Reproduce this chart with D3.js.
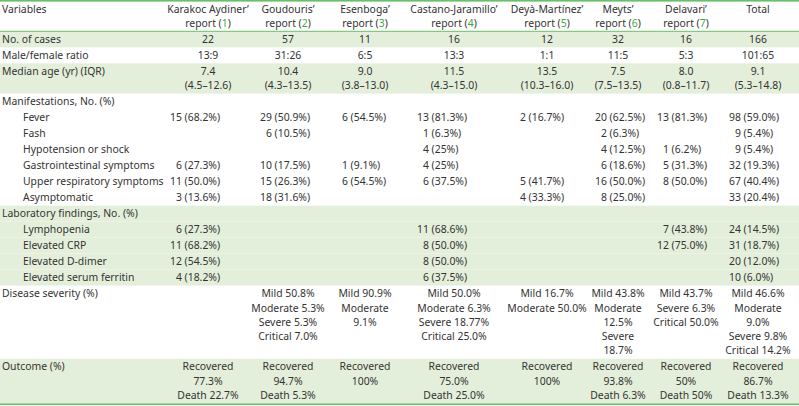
<!DOCTYPE html>
<html><head><meta charset="utf-8">
<script src="https://cdn.jsdelivr.net/npm/d3@7"></script>
<style>html,body{margin:0;padding:0;background:#fff}svg{display:block}</style>
</head><body><svg id="c" width="799" height="406"></svg>
<script>
// ---------- data ----------
const studies = ["Karakoc Aydiner’", "Goudouris’", "Esenboga’", "Castano-Jaramillo’", "Deyà-Martínez’", "Meyts’", "Delavari’", "Total"];
const refs = [1, 2, 3, 4, 5, 6, 7, null];
const cases = [22, 57, 11, 16, 12, 32, 16, 166];
const sexRatio = ["13:9", "31:26", "6:5", "13:3", "1:1", "11:5", "5:3", "101:65"];
const medianAge = ["7.4", "10.4", "9.0", "11.5", "13.5", "7.5", "8.0", "9.1"];
const ageIQR = ["4.5–12.6", "4.3–13.5", "3.8–13.0", "4.3–15.0", "10.3–16.0", "7.5–13.5", "0.8–11.7", "5.3–14.8"];
// [count, percent] per study, null = not reported
const fever = [[15, "68.2"], [29, "50.9"], [6, "54.5"], [13, "81.3"], [2, "16.7"], [20, "62.5"], [13, "81.3"], [98, "59.0"]];
const fash = [null, [6, "10.5"], null, [1, "6.3"], null, [2, "6.3"], null, [9, "5.4"]];
const hypotension = [null, null, null, [4, "25"], null, [4, "12.5"], [1, "6.2"], [9, "5.4"]];
const gastro = [[6, "27.3"], [10, "17.5"], [1, "9.1"], [4, "25"], null, [6, "18.6"], [5, "31.3"], [32, "19.3"]];
const upperResp = [[11, "50.0"], [15, "26.3"], [6, "54.5"], [6, "37.5"], [5, "41.7"], [16, "50.0"], [8, "50.0"], [67, "40.4"]];
const asymptomatic = [[3, "13.6"], [18, "31.6"], null, null, [4, "33.3"], [8, "25.0"], null, [33, "20.4"]];
const lymphopenia = [[6, "27.3"], null, null, [11, "68.6"], null, null, [7, "43.8"], [24, "14.5"]];
const crp = [[11, "68.2"], null, null, [8, "50.0"], null, null, [12, "75.0"], [31, "18.7"]];
const dDimer = [[12, "54.5"], null, null, [8, "50.0"], null, null, null, [20, "12.0"]];
const ferritin = [[4, "18.2"], null, null, [6, "37.5"], null, null, null, [10, "6.0"]];
const severity = [
  [],
  ["Mild 50.8%", "Moderate 5.3%", "Severe 5.3%", "Critical 7.0%"],
  ["Mild 90.9%", "Moderate", "9.1%"],
  ["Mild 50.0%", "Moderate 6.3%", "Severe 18.77%", "Critical 25.0%"],
  ["Mild 16.7%", "Moderate 50.0%"],
  ["Mild 43.8%", "Moderate", "12.5%", "Severe", "18.7%"],
  ["Mild 43.7%", "Severe 6.3%", "Critical 50.0%"],
  ["Mild 46.6%", "Moderate", "9.0%", "Severe 9.8%", "Critical 14.2%"]
];
const outcome = [
  ["Recovered", "77.3%", "Death 22.7%"],
  ["Recovered", "94.7%", "Death 5.3%"],
  ["Recovered", "100%"],
  ["Recovered", "75.0%", "Death 25.0%"],
  ["Recovered", "100%"],
  ["Recovered", "93.8%", "Death 6.3%"],
  ["Recovered", "50%", "Death 50%"],
  ["Recovered", "86.7%", "Death 13.3%"]
];

// ---------- layout ----------
const W = 799, H = 406;
const FONT = "'Noto Sans', Lato, sans-serif";
const FS = 10.4;
const LH = 14.3, PAD = 0.85;
const TEXT = "#333";
const GREEN = "#6abf69";
const SHADE = "#e4efdb";
const REFC = "#3daa47";

const colCenter = d3.scaleOrdinal().domain(studies).range([208, 288, 365, 454, 547, 618, 686, 758]);
const numLeft = d3.scaleOrdinal().domain(studies).range([170, 260, 336, 417, 514, 595, 657, 729]);

const rows = [
  {label: "No. of cases", cells: cases.map(v => [String(v)]), shade: true},
  {label: "Male/female ratio", cells: sexRatio.map(v => [v]), shade: false},
  {label: "Median age (yr) (IQR)", cells: medianAge.map((m, i) => [m, "(" + ageIQR[i] + ")"]), shade: true},
  {label: "Manifestations, No. (%)", shade: false},
  {label: "Fever", indent: true, num: fever, shade: false},
  {label: "Fash", indent: true, num: fash, shade: false},
  {label: "Hypotension or shock", indent: true, num: hypotension, shade: false},
  {label: "Gastrointestinal symptoms", indent: true, num: gastro, shade: false},
  {label: "Upper respiratory symptoms", indent: true, num: upperResp, shade: false},
  {label: "Asymptomatic", indent: true, num: asymptomatic, shade: false},
  {label: "Laboratory findings, No. (%)", shade: true},
  {label: "Lymphopenia", indent: true, num: lymphopenia, shade: true},
  {label: "Elevated CRP", indent: true, num: crp, shade: true},
  {label: "Elevated D-dimer", indent: true, num: dDimer, shade: true},
  {label: "Elevated serum ferritin", indent: true, num: ferritin, shade: true},
  {label: "Disease severity (%)", cells: severity, shade: false},
  {label: "Outcome (%)", cells: outcome, shade: true}
];

const svg = d3.select("#c");
const headerTop = 1;
const headerH = 2 * LH + 2 * PAD;
let y = headerTop + headerH;
rows.forEach(r => {
  const n = r.cells ? Math.max(1, d3.max(r.cells, c => c.length)) : 1;
  r.top = y; r.h = n * LH + 2 * PAD; y += r.h;
});
const tableBottom = y;

// shading
svg.append("g").selectAll("rect").data(rows.filter(r => r.shade)).join("rect")
  .attr("x", 0).attr("width", W).attr("y", d => d.top).attr("height", d => d.h).attr("fill", SHADE);

// rules
svg.append("rect").attr("x", 0).attr("y", 0).attr("width", W).attr("height", 1.6).attr("fill", GREEN);
svg.append("rect").attr("x", 0).attr("y", headerTop + headerH - 0.5).attr("width", W).attr("height", 1).attr("fill", GREEN);
svg.append("rect").attr("x", 0).attr("y", tableBottom).attr("width", W).attr("height", 1.6).attr("fill", GREEN);

const g = svg.append("g").attr("font-family", FONT).attr("font-size", FS).attr("fill", TEXT);
const lineY = (top, i) => top + PAD + LH / 2 + i * LH;

// header
g.append("text").attr("x", 2).attr("y", lineY(headerTop, 0)).attr("dy", "0.35em").text("Variables");
studies.forEach((s, i) => {
  g.append("text").attr("x", colCenter(s)).attr("y", lineY(headerTop, 0)).attr("dy", "0.35em")
    .attr("text-anchor", "middle").text(s);
  if (refs[i] != null) {
    const t = g.append("text").attr("x", colCenter(s)).attr("y", lineY(headerTop, 1)).attr("dy", "0.35em")
      .attr("text-anchor", "middle");
    t.append("tspan").text("report (");
    t.append("tspan").attr("fill", REFC).text(refs[i]);
    t.append("tspan").text(")");
  }
});

// digit width for aligned counts
const probe = g.append("text").text("00");
const twoDigits = probe.node().getComputedTextLength();
probe.remove();

rows.forEach(r => {
  g.append("text").attr("x", r.indent ? 23 : 2).attr("y", lineY(r.top, 0)).attr("dy", "0.35em").text(r.label);
  if (r.cells) {
    r.cells.forEach((lines, i) => {
      g.selectAll(null).data(lines).join("text")
        .attr("x", colCenter(studies[i])).attr("y", (d, k) => lineY(r.top, k)).attr("dy", "0.35em")
        .attr("text-anchor", "middle").text(d => d);
    });
  }
  if (r.num) {
    r.num.forEach((v, i) => {
      if (!v) return;
      const xEnd = numLeft(studies[i]) + twoDigits;
      g.append("text").attr("x", xEnd).attr("y", lineY(r.top, 0)).attr("dy", "0.35em")
        .attr("text-anchor", "end").text(v[0]);
      g.append("text").attr("x", xEnd).attr("y", lineY(r.top, 0)).attr("dy", "0.35em")
        .attr("xml:space", "preserve").style("white-space", "pre").text(" (" + v[1] + "%)");
    });
  }
});
</script></body></html>
